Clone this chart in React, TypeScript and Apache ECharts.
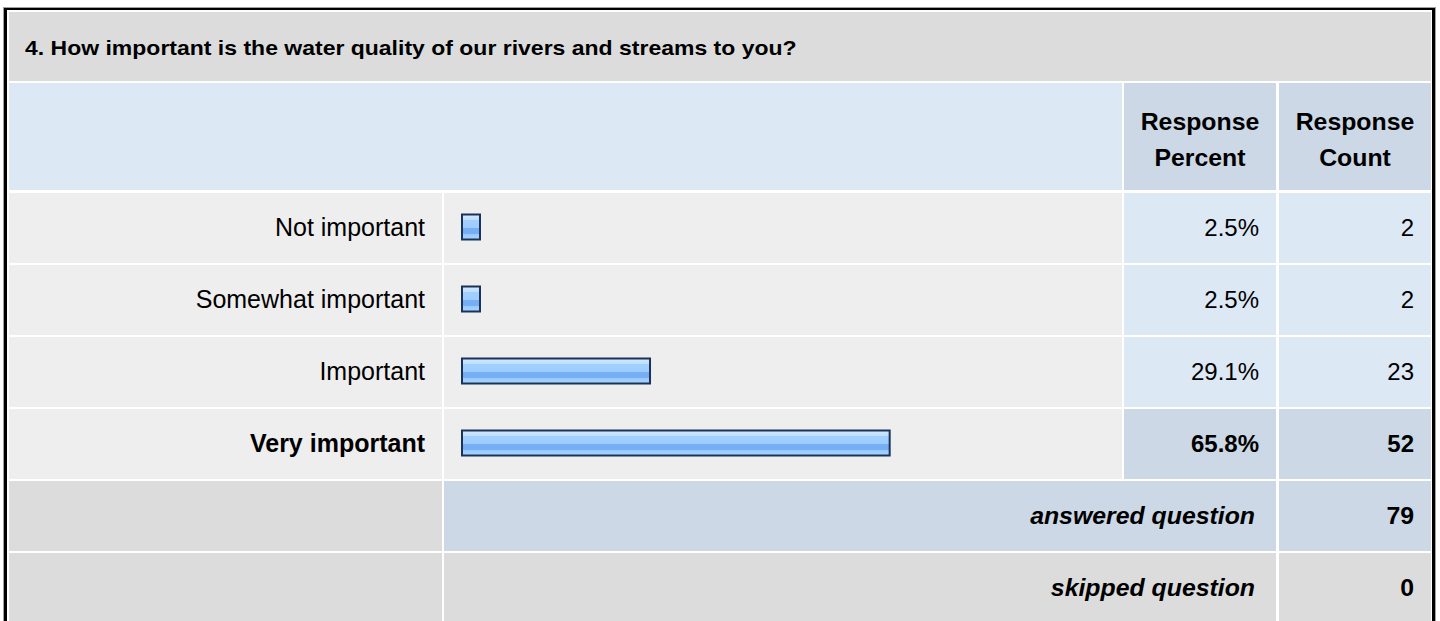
import React, { useEffect, useRef } from "react";
import * as echarts from "echarts";

const titleText = "4. How important is the water quality of our rivers and streams to you?";
const headerLabels = ["Response\nPercent", "Response\nCount"];
const categories = ["Not important", "Somewhat important", "Important", "Very important"];
const percents = [2.5, 2.5, 29.1, 65.8];
const counts = [2, 2, 23, 52];
const summaryLabels = ["answered question", "skipped question"];
const summaryValues = [79, 0];

const FONT = 'Arial, "Liberation Sans", Helvetica, sans-serif';
const GRAY = "#dcdcdc";
const LIGHT = "#eeeeee";
const BLUE = "#dde8f5";
const BLUE_D = "#ccd8e6";

// layout
const X_L = 9, X_LAB_R = 442, X_BAR_L = 444, X_BAR_R = 1122, X_PCT_L = 1124, X_PCT_R = 1276, X_CNT_L = 1279, X_CNT_R = 1431;
const TITLE_T = 12, TITLE_B = 81, HEAD_T = 83, HEAD_B = 190, ROW0 = 193, PITCH = 72, ROW_H = 70;
const GRID_L = 461, GRID_W = 653, GRID_T = 191;
const SX = 1.08;

export default function App() {
  const ref = useRef<HTMLDivElement>(null);
  useEffect(() => {
    const chart = echarts.init(ref.current!, null, { renderer: "svg" });
    const hi = counts.indexOf(Math.max(...counts));
    const n = categories.length;
    const rect = (x0: number, y0: number, x1: number, y1: number, fill: string) => ({
      type: "rect", z: 0, silent: true,
      shape: { x: x0, y: y0, width: x1 - x0, height: y1 - y0 },
      style: { fill },
    });
    const g: any[] = [];
    g.push(rect(3, 7, 1436, 700, "#a0a0a0"));
    g.push(rect(4, 8, 1435, 700, "#000000"));
    g.push(rect(7, 10, 1432, 700, "#ffffff"));
    g.push(rect(X_L, TITLE_T, X_CNT_R, TITLE_B, GRAY));
    g.push(rect(X_L, HEAD_T, X_BAR_R, HEAD_B, BLUE));
    g.push(rect(X_PCT_L, HEAD_T, X_PCT_R, HEAD_B, BLUE_D));
    g.push(rect(X_CNT_L, HEAD_T, X_CNT_R, HEAD_B, BLUE_D));
    categories.forEach((_, i) => {
      const t = ROW0 + PITCH * i, b = t + ROW_H;
      const c = i === hi ? BLUE_D : BLUE;
      g.push(rect(X_L, t, X_LAB_R, b, LIGHT));
      g.push(rect(X_BAR_L, t, X_BAR_R, b, LIGHT));
      g.push(rect(X_PCT_L, t, X_PCT_R, b, c));
      g.push(rect(X_CNT_L, t, X_CNT_R, b, c));
    });
    summaryLabels.forEach((lab, j) => {
      const t = ROW0 + PITCH * (n + j), b = t + ROW_H;
      const c = j === 0 ? BLUE_D : GRAY;
      g.push(rect(X_L, t, X_LAB_R, b, GRAY));
      g.push(rect(X_BAR_L, t, X_PCT_R, b, c));
      g.push(rect(X_CNT_L, t, X_CNT_R, b, c));
      g.push({
        type: "text", z: 10, x: X_PCT_R - 21, y: t + 35, scaleX: SX,
        style: { text: lab, fill: "#000", font: `italic bold 23px ${FONT}`, textAlign: "right", textVerticalAlign: "middle" },
      });
      g.push({
        type: "text", z: 10, x: X_CNT_R - 17, y: t + 35, scaleX: SX,
        style: { text: String(summaryValues[j]), fill: "#000", font: `bold 23px ${FONT}`, textAlign: "right", textVerticalAlign: "middle" },
      });
    });
    g.push({
      type: "text", z: 10, x: 25, y: 48, scaleX: 1.095,
      style: { text: titleText, fill: "#000", font: `bold 21px ${FONT}`, textAlign: "left", textVerticalAlign: "middle" },
    });
    headerLabels.forEach((h, k) => {
      const cx = k === 0 ? (X_PCT_L + X_PCT_R) / 2 : (X_CNT_L + X_CNT_R) / 2;
      g.push({
        type: "text", z: 10, x: cx, y: 140, scaleX: SX,
        style: { text: h, fill: "#000", font: `bold 23px ${FONT}`, lineHeight: 36, textAlign: "center", textVerticalAlign: "middle" },
      });
    });

    const boldFmt = (v: string, idx: number) => (idx === hi ? `{b|${v}}` : v);
    const labelBase = { color: "#000", fontSize: 24, fontFamily: FONT };
    const rich = { b: { fontWeight: "bold", fontSize: 24, fontFamily: FONT, color: "#000" } };
    const catBase = { color: "#000", fontSize: 25, fontFamily: FONT };
    const catRich = { b: { fontWeight: "bold", fontSize: 25, fontFamily: FONT, color: "#000" } };

    chart.setOption({
      animation: false,
      backgroundColor: "#ffffff",
      graphic: g,
      grid: { left: GRID_L, top: GRID_T, width: GRID_W, height: PITCH * n },
      xAxis: { type: "value", min: 0, max: 100, show: false },
      yAxis: [
        {
          type: "category", data: categories, inverse: true, position: "left", z: 5,
          axisLine: { show: false }, axisTick: { show: false }, splitLine: { show: false },
          axisLabel: { ...catBase, margin: GRID_L - 425, formatter: boldFmt, rich: catRich },
        },
        {
          type: "category", data: percents.map((p) => p.toFixed(1) + "%"), inverse: true, position: "right", z: 5,
          axisLine: { show: false }, axisTick: { show: false }, splitLine: { show: false },
          axisLabel: { ...labelBase, align: "right", margin: 1259 - (GRID_L + GRID_W), formatter: boldFmt, rich },
        },
        {
          type: "category", data: counts.map(String), inverse: true, position: "right", z: 5,
          axisLine: { show: false }, axisTick: { show: false }, splitLine: { show: false },
          axisLabel: { ...labelBase, align: "right", margin: 1414 - (GRID_L + GRID_W), formatter: boldFmt, rich },
        },
      ],
      series: [
        {
          type: "bar", data: percents, barWidth: 27, barMinHeight: 20, z: 5,
          itemStyle: {
            borderColor: "#1b3356", borderWidth: 2,
            color: new echarts.graphic.LinearGradient(0, 0, 0, 1, [
              { offset: 0, color: "#d2e9ff" },
              { offset: 0.2, color: "#bfdfff" },
              { offset: 0.22, color: "#a2d0ff" },
              { offset: 0.55, color: "#9ccdff" },
              { offset: 0.56, color: "#78aef3" },
              { offset: 0.76, color: "#78aef3" },
              { offset: 0.77, color: "#95c9ff" },
              { offset: 1, color: "#a6d5ff" },
            ]),
          },
        },
      ],
    });
    return () => chart.dispose();
  }, []);
  return <div ref={ref} style={{ position: "fixed", left: 0, top: 0, width: 1440, height: 621 }} />;
}
